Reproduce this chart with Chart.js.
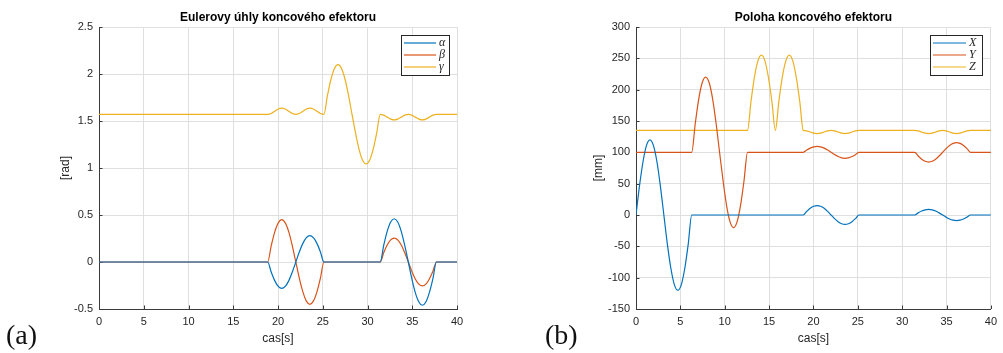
<!DOCTYPE html>
<html>
<head>
<meta charset="utf-8">
<script src="https://cdn.jsdelivr.net/npm/chart.js@4.4.1/dist/chart.umd.min.js"></script>
<style>
  html, body { margin: 0; padding: 0; background: #fff; }
  body { width: 1003px; height: 353px; position: relative; overflow: hidden; }
  .panel { position: absolute; top: 0; height: 353px; }
  #wrapA { left: 0; width: 500px; }
  #wrapB { left: 500px; width: 503px; }
  .tag { position: absolute; font-family: "Liberation Serif", "DejaVu Serif", serif; font-size: 28px; line-height: 1; color: #111; }
</style>
</head>
<body>
<div class="panel" id="wrapA"><canvas id="chartA"></canvas></div>
<div class="panel" id="wrapB"><canvas id="chartB"></canvas></div>
<div class="tag" style="left:6px;top:321px">(a)</div>
<div class="tag" style="left:545px;top:321px">(b)</div>
<script>
// ---- data ----
const xTicks = [0, 5, 10, 15, 20, 25, 30, 35, 40];
const yTicksA = [-0.5, 0, 0.5, 1, 1.5, 2, 2.5];
const yTicksB = [-150, -100, -50, 0, 50, 100, 150, 200, 250, 300];

// (a) Euler angles [rad]
const timeA = [0,
  18.85, 19.24, 19.63, 20.03, 20.42, 20.81, 21.21, 21.60, 21.99, 22.38, 22.78, 23.17, 23.56, 23.95, 24.35, 24.74, 25.13,
  25.53, 25.92, 26.31, 26.70, 27.10, 27.49, 27.88, 28.27, 28.67, 29.06, 29.45, 29.85, 30.24, 30.63, 31.02,
  31.42, 31.81, 32.20, 32.59, 32.99, 33.38, 33.77, 34.16, 34.56, 34.95, 35.34, 35.74, 36.13, 36.52, 36.91, 37.31, 37.70,
  40];
const alpha = [0,
  0, -0.107, -0.198, -0.259, -0.28, -0.259, -0.198, -0.107, 0, 0.107, 0.198, 0.259, 0.28, 0.259, 0.198, 0.107, 0,
  0, 0, 0, 0, 0, 0, 0, 0, 0, 0, 0, 0, 0, 0, 0,
  0, 0.176, 0.325, 0.425, 0.46, 0.425, 0.325, 0.176, 0, -0.176, -0.325, -0.425, -0.46, -0.425, -0.325, -0.176, 0,
  0];
const beta = [0,
  0, 0.172, 0.318, 0.416, 0.45, 0.416, 0.318, 0.172, 0, -0.172, -0.318, -0.416, -0.45, -0.416, -0.318, -0.172, 0,
  0, 0, 0, 0, 0, 0, 0, 0, 0, 0, 0, 0, 0, 0, 0,
  0, 0.098, 0.18, 0.236, 0.255, 0.236, 0.18, 0.098, 0, -0.098, -0.18, -0.236, -0.255, -0.236, -0.18, -0.098, 0,
  0];
const gamma = [1.571,
  1.571, 1.580, 1.603, 1.627, 1.636, 1.627, 1.603, 1.580, 1.571, 1.580, 1.603, 1.627, 1.636, 1.627, 1.603, 1.580, 1.571,
  1.773, 1.944, 2.059, 2.099, 2.059, 1.944, 1.773, 1.571, 1.369, 1.198, 1.083, 1.043, 1.083, 1.198, 1.369,
  1.571, 1.562, 1.541, 1.520, 1.511, 1.520, 1.541, 1.562, 1.571, 1.562, 1.541, 1.520, 1.511, 1.520, 1.541, 1.562, 1.571,
  1.571];

// (b) end effector position [mm]
const timeB = [
  0, 0.39, 0.79, 1.18, 1.57, 1.96, 2.36, 2.75, 3.14, 3.53, 3.93, 4.32, 4.71, 5.11, 5.50, 5.89,
  6.28, 6.68, 7.07, 7.46, 7.85, 8.25, 8.64, 9.03, 9.42, 9.82, 10.21, 10.60, 11.00, 11.39, 11.78, 12.17,
  12.57, 12.96, 13.35, 13.74, 14.14, 14.53, 14.92, 15.32, 15.71, 16.10, 16.49, 16.89, 17.28, 17.67, 18.06, 18.46,
  18.85, 19.24, 19.63, 20.03, 20.42, 20.81, 21.21, 21.60, 21.99, 22.38, 22.78, 23.17, 23.56, 23.95, 24.35, 24.74,
  25.13, 25.53, 25.92, 26.31, 26.70, 27.10, 27.49, 27.88, 28.27, 28.67, 29.06, 29.45, 29.85, 30.24, 30.63, 31.02,
  31.42, 31.81, 32.20, 32.59, 32.99, 33.38, 33.77, 34.16, 34.56, 34.95, 35.34, 35.74, 36.13, 36.52, 36.91, 37.31,
  37.70, 40];
const posX = [
  0, 46, 85, 111, 120, 111, 85, 46, 0, -46, -85, -111, -120, -111, -85, -46,
  0, 0, 0, 0, 0, 0, 0, 0, 0, 0, 0, 0, 0, 0, 0, 0,
  0, 0, 0, 0, 0, 0, 0, 0, 0, 0, 0, 0, 0, 0, 0, 0,
  0, 5.7, 10.6, 13.9, 15, 13.9, 10.6, 5.7, 0, -5.7, -10.6, -13.9, -15, -13.9, -10.6, -5.7,
  0, 0, 0, 0, 0, 0, 0, 0, 0, 0, 0, 0, 0, 0, 0, 0,
  0, 3.4, 6.4, 8.3, 9, 8.3, 6.4, 3.4, 0, -3.4, -6.4, -8.3, -9, -8.3, -6.4, -3.4,
  0, 0];
const posY = [
  100, 100, 100, 100, 100, 100, 100, 100, 100, 100, 100, 100, 100, 100, 100, 100,
  100, 146, 185, 211, 220, 211, 185, 146, 100, 54, 15, -11, -20, -11, 15, 54,
  100, 100, 100, 100, 100, 100, 100, 100, 100, 100, 100, 100, 100, 100, 100, 100,
  100, 103.6, 106.7, 108.8, 109.5, 108.8, 106.7, 103.6, 100, 96.4, 93.3, 91.2, 90.5, 91.2, 93.3, 96.4,
  100, 100, 100, 100, 100, 100, 100, 100, 100, 100, 100, 100, 100, 100, 100, 100,
  100, 94.1, 89.0, 85.7, 84.5, 85.7, 89.0, 94.1, 100, 105.9, 111.0, 114.3, 115.5, 114.3, 111.0, 105.9,
  100, 100];
const posZ = [
  135, 135, 135, 135, 135, 135, 135, 135, 135, 135, 135, 135, 135, 135, 135, 135,
  135, 135, 135, 135, 135, 135, 135, 135, 135, 135, 135, 135, 135, 135, 135, 135,
  135, 181, 220, 246, 255, 246, 220, 181, 135, 181, 220, 246, 255, 246, 220, 181,
  135, 134.3, 132.5, 130.7, 130, 130.7, 132.5, 134.3, 135, 134.3, 132.5, 130.7, 130, 130.7, 132.5, 134.3,
  135, 135, 135, 135, 135, 135, 135, 135, 135, 135, 135, 135, 135, 135, 135, 135,
  135, 134.3, 132.5, 130.7, 130, 130.7, 132.5, 134.3, 135, 134.3, 132.5, 130.7, 130, 130.7, 132.5, 134.3,
  135, 135];

const BLUE = '#0072BD', RED = '#D95319', YELLOW = '#EDB120';
const TEXT = '#262626', AXIS = '#3a3a3a', GRID = '#dfdfdf';

Chart.defaults.font.family = '"Liberation Sans", Arial, Helvetica, sans-serif';
Chart.defaults.color = TEXT;

// matlab style ticks pointing into the plot
const innerTicks = {
  id: 'innerTicks',
  beforeDatasetsDraw(chart) {
    const { ctx, chartArea: a, scales } = chart;
    ctx.save();
    ctx.strokeStyle = AXIS;
    ctx.lineWidth = 1;
    ctx.beginPath();
    scales.x.ticks.forEach(t => {
      const px = Math.round(scales.x.getPixelForValue(t.value)) + 0.5;
      ctx.moveTo(px, a.bottom);
      ctx.lineTo(px, a.bottom - 3.5);
    });
    scales.y.ticks.forEach(t => {
      const py = Math.round(scales.y.getPixelForValue(t.value)) + 0.5;
      ctx.moveTo(a.left, py);
      ctx.lineTo(a.left + 3.5, py);
    });
    ctx.stroke();
    ctx.restore();
  }
};

// boxed legend in the upper right corner of the plot
const boxLegend = {
  id: 'boxLegend',
  afterDraw(chart, args, opts) {
    const { ctx, chartArea: a } = chart;
    const sets = chart.data.datasets;
    const x0 = Math.round(a.right - opts.right - opts.width);
    const y0 = Math.round(a.top + opts.top);
    const h = opts.row * sets.length + 4;
    ctx.save();
    ctx.fillStyle = '#fff';
    ctx.fillRect(x0, y0, opts.width, h);
    ctx.strokeStyle = TEXT;
    ctx.lineWidth = 1;
    ctx.strokeRect(x0 + 0.5, y0 + 0.5, opts.width, h);
    sets.forEach((ds, i) => {
      const y = y0 + 2 + opts.row * (i + 0.5);
      ctx.strokeStyle = ds.borderColor;
      ctx.lineWidth = ds.borderWidth;
      ctx.beginPath();
      ctx.moveTo(x0 + 3, y);
      ctx.lineTo(x0 + 3 + opts.lineLen, y);
      ctx.stroke();
      ctx.fillStyle = TEXT;
      ctx.font = 'italic 12px "Liberation Serif", "DejaVu Serif", serif';
      ctx.textBaseline = 'middle';
      ctx.textAlign = 'left';
      ctx.fillText(ds.label, x0 + 6 + opts.lineLen, y);
    });
    ctx.restore();
  }
};

function line(label, xs, ys, color) {
  return {
    label,
    data: xs.map((t, i) => ({ x: t, y: ys[i] })),
    borderColor: color,
    borderWidth: 1.2,
    pointRadius: 0,
    fill: false,
    cubicInterpolationMode: 'monotone',
    xAxisID: 'x',
    yAxisID: 'y'
  };
}

function makeChart(id, cfg) {
  return new Chart(document.getElementById(id), {
    type: 'line',
    data: { datasets: cfg.datasets },
    plugins: [innerTicks, boxLegend],
    options: {
      responsive: true,
      maintainAspectRatio: false,
      animation: false,
      events: [],
      layout: { padding: cfg.padding },
      plugins: {
        legend: { display: false },
        tooltip: { enabled: false },
        title: { display: false },
        boxLegend: cfg.legend
      },
      scales: {
        x: {
          type: 'linear', position: 'bottom', min: 0, max: 40,
          afterBuildTicks: s => { s.ticks = xTicks.map(v => ({ value: v })); },
          afterFit: s => { s.height = 44; },
          grid: { color: GRID, drawTicks: false },
          border: { color: AXIS, width: 1 },
          ticks: { font: { size: 11 }, color: TEXT, padding: 6, maxRotation: 0, autoSkip: false, callback: v => String(v) },
          title: { display: true, text: 'cas[s]', font: { size: 12 }, color: TEXT, padding: { top: 0, bottom: 7 } }
        },
        top: {
          type: 'linear', axis: 'x', position: 'top', min: 0, max: 40,
          afterFit: s => { s.height = 27; },
          grid: { display: false, drawTicks: false },
          border: { display: false },
          ticks: { display: false },
          title: { display: true, text: cfg.title, font: { size: 12, weight: 'bold' }, color: '#000', padding: { top: 10, bottom: 0 } }
        },
        y: {
          type: 'linear', position: 'left', min: cfg.yTicks[0], max: cfg.yTicks[cfg.yTicks.length - 1],
          afterBuildTicks: s => { s.ticks = cfg.yTicks.map(v => ({ value: v })); },
          afterFit: s => { s.width = cfg.yWidth; },
          grid: { color: GRID, drawTicks: false },
          border: { color: AXIS, width: 1 },
          ticks: { font: { size: 11 }, color: TEXT, padding: 6, autoSkip: false, callback: v => String(v) },
          title: { display: true, text: cfg.yTitle, font: { size: 12 }, color: TEXT, padding: { top: 4, bottom: 0 } }
        }
      }
    }
  });
}

makeChart('chartA', {
  title: 'Eulerovy úhly koncového efektoru',
  yTitle: '[rad]',
  yTicks: yTicksA,
  yWidth: 45,
  padding: { left: 54, right: 43, top: 0, bottom: 0 },
  legend: { right: 8, top: 8, width: 48, row: 12, lineLen: 32 },
  datasets: [
    line('α', timeA, alpha, BLUE),
    line('β', timeA, beta, RED),
    line('γ', timeA, gamma, YELLOW)
  ]
});

makeChart('chartB', {
  title: 'Poloha koncového efektoru',
  yTitle: '[mm]',
  yTicks: yTicksB,
  yWidth: 49,
  padding: { left: 87, right: 7, top: 0, bottom: 0 },
  legend: { right: 9, top: 8, width: 52, row: 12, lineLen: 33 },
  datasets: [
    line('X', timeB, posX, BLUE),
    line('Y', timeB, posY, RED),
    line('Z', timeB, posZ, YELLOW)
  ]
});
</script>
</body>
</html>
